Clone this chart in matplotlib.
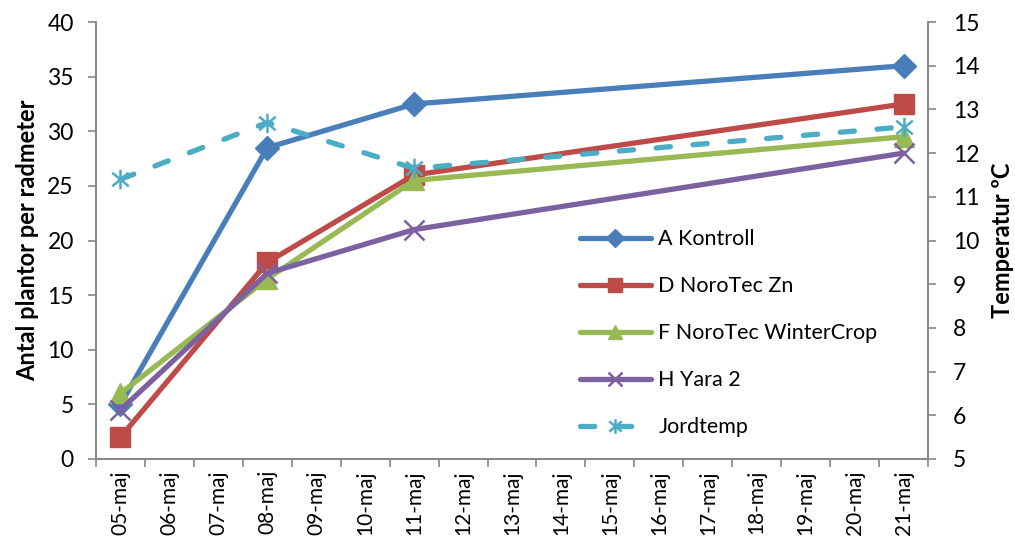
import matplotlib.pyplot as plt
import numpy as np
from matplotlib.path import Path

plt.rcParams["font.family"] = ["Lato", "DejaVu Sans"]

days = ["05-maj", "06-maj", "07-maj", "08-maj", "09-maj", "10-maj", "11-maj", "12-maj", "13-maj",
        "14-maj", "15-maj", "16-maj", "17-maj", "18-maj", "19-maj", "20-maj", "21-maj"]
sample_days = ["05-maj", "08-maj", "11-maj", "21-maj"]

a_kontroll = [5, 28.5, 32.5, 36]
d_norotec_zn = [2, 18, 26, 32.5]
f_norotec_wc = [6, 16.5, 25.5, 29.5]
h_yara2 = [4.5, 17, 21, 28]
jordtemp = [11.4, 12.7, 11.65, 12.6]

x = np.array([days.index(d) for d in sample_days])

# six-armed star marker for the temperature series
star = Path(
    [(0, -1), (0, 1), (-0.85, -0.7), (0.85, 0.7), (-0.85, 0.7), (0.85, -0.7)],
    [Path.MOVETO, Path.LINETO, Path.MOVETO, Path.LINETO, Path.MOVETO, Path.LINETO],
)

fig = plt.figure(figsize=(10.15, 5.51), dpi=100)
ax = fig.add_axes([0.0946, 0.167, 0.8197, 0.793])
ax2 = ax.twinx()

lw = 3.8
series = [
    ("A Kontroll", a_kontroll, "#4A7EBB", "D", 12),
    ("D NoroTec Zn", d_norotec_zn, "#BE4B48", "s", 14),
    ("F NoroTec WinterCrop", f_norotec_wc, "#98B954", "^", 14),
    ("H Yara 2", h_yara2, "#7D60A0", "x", 14),
]
handles = []
for name, vals, col, mk, ms in series:
    (h,) = ax.plot(x, vals, color=col, lw=lw, marker=mk, ms=ms, mec=col, mew=1.8 if mk == "x" else 1,
                   label=name, solid_capstyle="round", solid_joinstyle="round")
    handles.append(h)

(ht,) = ax2.plot(x, jordtemp, color="#4BACC6", lw=lw, ls=(0, (2.7, 4.3)), dash_capstyle="round",
                 marker=star, ms=14, mew=1.8, mec="#4BACC6", mfc="none", label="Jordtemp")
handles.append(ht)

ax.set_xlim(-0.5, len(days) - 0.5)
ax.set_ylim(0, 40)
ax.set_yticks(np.arange(0, 41, 5))
ax2.set_ylim(5, 15)
ax2.set_yticks(np.arange(5, 16, 1))

ax.set_xticks(np.arange(len(days)))
ax.set_xticklabels(days, rotation=90, fontsize=15)
ax.set_xticks(np.arange(-0.5, len(days)), minor=True)
ax.tick_params(axis="x", which="major", length=0, pad=8)
ax.tick_params(axis="x", which="minor", length=6, width=1.2, color="#868686", direction="out")
ax.tick_params(axis="y", labelsize=16.5, length=6, width=1.2, color="#868686", direction="out", pad=10)
ax2.tick_params(axis="y", labelsize=16.5, length=6, width=1.2, color="#868686", direction="out", pad=12)

for a in (ax, ax2):
    a.spines["top"].set_visible(False)
    for s in ("left", "right", "bottom"):
        a.spines[s].set_color("#868686")
        a.spines[s].set_linewidth(1.2)

ax.set_ylabel("Antal plantor per radmeter", fontsize=17, fontweight="bold", labelpad=6)
ax2.set_ylabel("Temperatur ºC", fontsize=17, fontweight="bold", labelpad=8)

ax.legend(handles=handles, loc="upper left", bbox_to_anchor=(0.571, 0.545), frameon=False,
          fontsize=15.5, handlelength=3.3, labelspacing=1.25, handletextpad=0.35, borderaxespad=0,
          markerscale=0.75)

fig.savefig("out.png", dpi=100)
